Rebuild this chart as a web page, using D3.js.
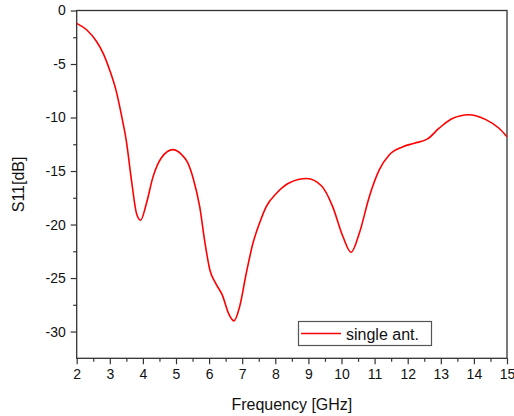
<!DOCTYPE html>
<html><head><meta charset="utf-8">
<script src="https://cdn.jsdelivr.net/npm/d3@7/dist/d3.min.js"></script>
<style>body{margin:0;background:#fff;} svg{display:block;font-family:Arial,"Liberation Sans",sans-serif;}</style>
</head><body>
<script>
const freq = [2.0,2.3,2.6,2.8,3.0,3.2,3.36,3.5,3.66,3.81,3.93,4.1,4.31,4.55,4.91,5.15,5.35,5.52,5.72,5.87,6.02,6.2,6.4,6.6,6.75,6.92,7.12,7.32,7.52,7.73,8.03,8.43,8.95,9.4,9.73,10.04,10.29,10.54,10.84,11.14,11.44,11.84,12.2,12.6,12.95,13.35,13.85,14.36,14.76,15.0];
const s11  = [-1.2,-1.8,-2.9,-4.0,-5.6,-7.6,-9.9,-12.2,-16.0,-19.0,-19.6,-18.1,-15.5,-13.8,-13.0,-13.4,-14.2,-15.7,-18.4,-21.6,-24.2,-25.5,-26.6,-28.4,-29.0,-27.7,-24.6,-21.8,-19.9,-18.3,-17.1,-16.1,-15.7,-16.4,-18.3,-21.1,-22.6,-20.8,-17.4,-14.9,-13.5,-12.75,-12.4,-12.0,-11.0,-10.1,-9.74,-10.2,-11.0,-11.8];
const xTicks = [2,3,4,5,6,7,8,9,10,11,12,13,14,15];
const yTicks = [0,-5,-10,-15,-20,-25,-30];
const seriesName = "single ant.";

const W=514,H=416;
const L=76.7,R=507,T=10.5,B=358.3;
const svg=d3.select("body").append("svg").attr("width",W).attr("height",H);
const x=d3.scaleLinear().domain([2,15]).range([L,R]);
const y=d3.scaleLinear().domain([-32.5,0]).range([B,T]);
const axCol="#333";

svg.append("rect").attr("x",L).attr("y",T).attr("width",R-L).attr("height",B-T)
  .attr("fill","none").attr("stroke",axCol).attr("stroke-width",1.3);

const xMinor=d3.range(2.5,15,1);
svg.append("g").attr("transform",`translate(0,${B})`)
  .call(d3.axisBottom(x).tickValues(xMinor).tickSize(3.5).tickFormat(""))
  .call(g=>{g.select(".domain").remove();g.selectAll("line").attr("stroke",axCol).attr("stroke-width",1.2);});
const gx=svg.append("g").attr("transform",`translate(0,${B})`)
  .call(d3.axisBottom(x).tickValues(xTicks).tickSize(6).tickPadding(5).tickFormat(d3.format("d")));
gx.select(".domain").remove();
gx.selectAll("line").attr("stroke",axCol).attr("stroke-width",1.2);
gx.selectAll("text").attr("font-size",14).attr("fill","#111").attr("font-family","Arial, Liberation Sans, sans-serif");

const yMinor=d3.range(-2.5,-32.5,-5);
svg.append("g").attr("transform",`translate(${L},0)`)
  .call(d3.axisLeft(y).tickValues(yMinor).tickSize(3.5).tickFormat(""))
  .call(g=>{g.select(".domain").remove();g.selectAll("line").attr("stroke",axCol).attr("stroke-width",1.2);});
const gy=svg.append("g").attr("transform",`translate(${L},0)`)
  .call(d3.axisLeft(y).tickValues(yTicks).tickSize(6).tickPadding(5).tickFormat(d=>d===0?"0":String(d)));
gy.select(".domain").remove();
gy.selectAll("line").attr("stroke",axCol).attr("stroke-width",1.2);
gy.selectAll("text").attr("font-size",14).attr("fill","#111").attr("font-family","Arial, Liberation Sans, sans-serif");

svg.append("text").attr("x",(L+R)/2).attr("y",410).attr("text-anchor","middle")
  .attr("font-size",16).attr("fill","#111").text("Frequency [GHz]");
svg.append("text").attr("transform",`translate(24,${(T+B)/2}) rotate(-90)`).attr("text-anchor","middle")
  .attr("font-size",16).attr("fill","#111").text("S11[dB]");

const data=freq.map((f,i)=>[f,s11[i]]);
const line=d3.line().x(d=>x(d[0])).y(d=>y(d[1])).curve(d3.curveMonotoneX);
svg.append("path").datum(data).attr("d",line).attr("fill","none").attr("stroke","#ff0000").attr("stroke-width",1.6);

const lg=svg.append("g");
lg.append("rect").attr("x",298.5).attr("y",321.5).attr("width",133).attr("height",24)
  .attr("fill","#fff").attr("stroke","#555").attr("stroke-width",1.2);
lg.append("line").attr("x1",301).attr("x2",341).attr("y1",333.5).attr("y2",333.5).attr("stroke","#ff0000").attr("stroke-width",1.6);
lg.append("text").attr("x",346).attr("y",339.5).attr("font-size",16).attr("fill","#111").text(seriesName);
</script>
</body></html>
